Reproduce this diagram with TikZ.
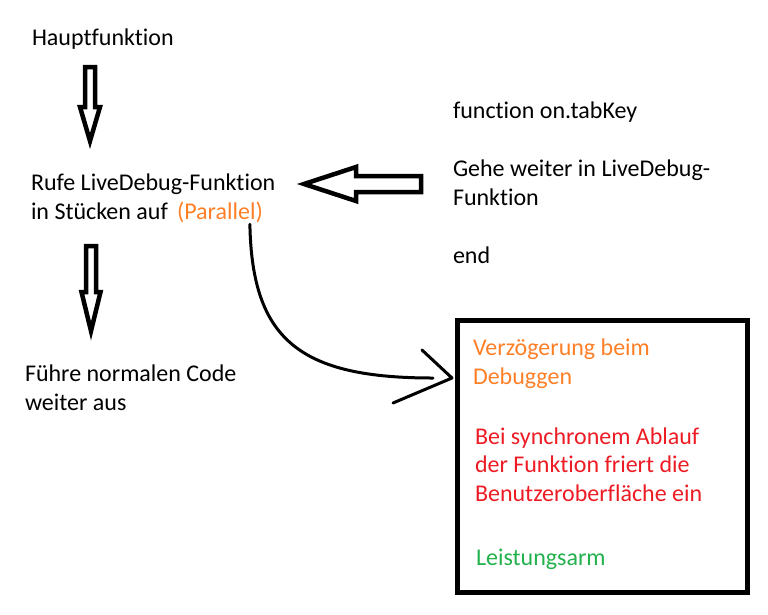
\documentclass[tikz,border=0pt]{standalone}
\usepackage{fontspec}
\setmainfont{Carlito}[Ligatures=NoCommon]
\usepackage{xcolor}
\usetikzlibrary{calc}
\definecolor{paintorange}{RGB}{255,127,39}
\definecolor{paintred}{RGB}{237,28,36}
\definecolor{paintgreen}{RGB}{34,177,76}
\tikzset{
  txt/.style={anchor=base west, inner sep=0pt, outer sep=0pt, align=left, font=\fontsize{24}{28.5}\selectfont},
  blockline/.style={draw=black, line width=4.5pt, line join=miter, miter limit=12},
  curveline/.style={draw=black, line width=3pt, line cap=round, line join=round},
  framebox/.style={draw=black, line width=5pt, minimum width=290pt, minimum height=272pt, inner sep=0pt, outer sep=0pt}
}
% start, tip, shaft half width, head length, head half width
\newcommand{\blockarrow}[5]{%
  \coordinate (neck) at ($(#2)!#4!(#1)$);
  \draw[blockline] ($(#1)!#3!90:(#2)$) -- ($(neck)!#3!90:(#2)$) -- ($(neck)!#5!90:(#2)$) -- (#2)
    -- ($(neck)!#5!-90:(#2)$) -- ($(neck)!#3!-90:(#2)$) -- ($(#1)!#3!-90:(#2)$) -- cycle;
}

\begin{document}
\begin{tikzpicture}[x=1pt,y=-1pt]
\useasboundingbox (0,0) rectangle (768,614);
% left column (anchor = baseline of last line)
\node[txt] (haupt) at (32,45) {Hauptfunktion};
\node[txt] (rufe) at (31,219) {Rufe LiveDebug-Funktion\\in Stücken auf};
\node[txt, text=paintorange] (par) at (177,219) {(Parallel)};
\node[txt] (fuehre) at (25,410) {Führe normalen Code\\weiter aus};
% right column
\node[txt] (fn) at (453,118) {function on.tabKey};
\node[txt] (gehe) at (453,205) {Gehe weiter in LiveDebug-\\Funktion};
\node[txt] (fnend) at (453,263) {end};
% box
\node[framebox] (box) at (602.5,456.5) {};
\node[txt, text=paintorange] (verz) at (473,384) {Verzögerung beim\\Debuggen};
\node[txt, text=paintred] (sync) at (475,501) {Bei synchronem Ablauf\\der Funktion friert die\\Benutzeroberfläche ein};
\node[txt, text=paintgreen] (leist) at (476,565) {Leistungsarm};
% block arrows
\coordinate (a1s) at (90,67);
\coordinate (a1e) at (90,141);
\coordinate (a2s) at (91,246);
\coordinate (a2e) at (91,331);
\coordinate (a3s) at (421,184);
\coordinate (a3e) at (304,184);
\blockarrow{a1s}{a1e}{5pt}{34pt}{10pt}
\blockarrow{a2s}{a2e}{5pt}{39pt}{9.5pt}
\blockarrow{a3s}{a3e}{8pt}{52pt}{17pt}
% curved arrow
\coordinate (cend) at (433,378);
\coordinate (tip) at (452,378);
\coordinate (barbup) at (422,350);
\coordinate (barblow) at (393,403);
\draw[curveline] ($(par.south)+(30,2)$) .. controls (252,340) and (300,378) .. (cend);
\draw[curveline] (barbup) -- (tip) -- (barblow);
\end{tikzpicture}
\end{document}
